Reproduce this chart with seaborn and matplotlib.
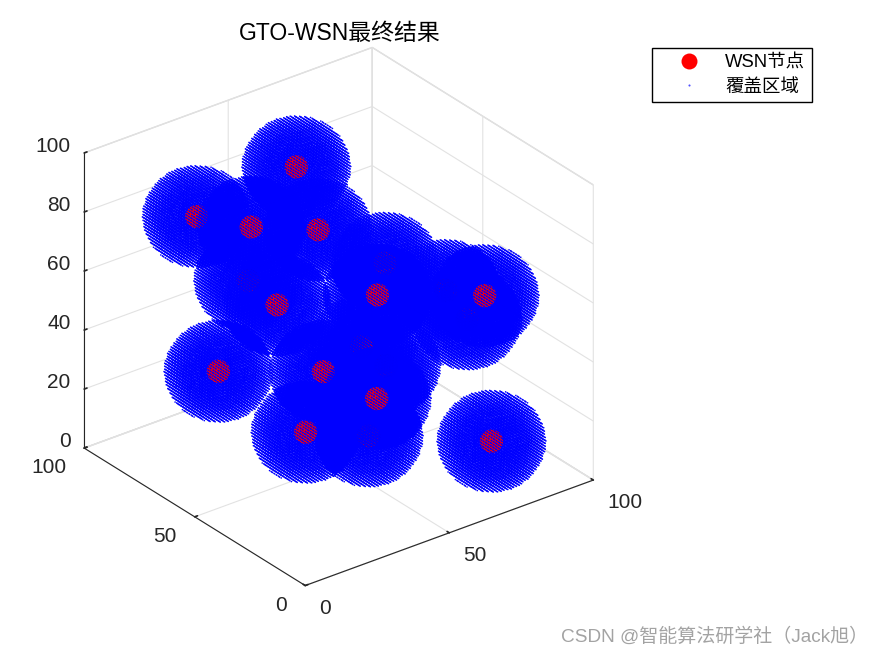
import numpy as np
import matplotlib
matplotlib.use("Agg")
import matplotlib.pyplot as plt
import seaborn as sns
from matplotlib.lines import Line2D

node_x = [56, 23, 25, 49, 47, 24, 65, 83, 83, 92, 97, 19, 47, 64, 44, 27, 55, 80, 68]
node_y = [77, 79, 57, 58, 87, 44, 52, 72, 27, 56, 53, 64, 53, 58, 25, 35, 43, 20, 52]
node_z = [86, 80, 86, 76, 46, 66, 51, 46, 56, 41, 31, 36, 31, 31, 36, 26, 11, 11, 26]
radius = 15
shell = 4.0

x_ticks = [0, 50, 100]
y_ticks = [0, 50, 100]
z_ticks = [0, 20, 40, 60, 80, 100]

title = "GTO-WSN最终结果"
legend_labels = ["WSN节点", "覆盖区域"]
credit = "CSDN @智能算法研学社（Jack旭）"

sns.set_theme(style="white")
font_list = ["Liberation Sans", "Noto Sans CJK SC", "DejaVu Sans"]
plt.rcParams["font.family"] = font_list


def coverage_points():
    # integer grid points inside each ball, split into core and outer shell
    off = np.arange(-radius - 1, radius + 2)
    gx, gy, gz = np.meshgrid(off, off, off, indexing="ij")
    d = np.sqrt(gx ** 2 + gy ** 2 + gz ** 2)
    outer = (d <= radius) & (d > radius - shell)
    inner = d <= radius - shell
    core, skin = [], []
    for cx, cy, cz in zip(node_x, node_y, node_z):
        core.append(np.c_[gx[inner] + cx, gy[inner] + cy, gz[inner] + cz])
        skin.append(np.c_[gx[outer] + cx, gy[outer] + cy, gz[outer] + cz])
    return np.vstack(core), np.vstack(skin)


fig = plt.figure(figsize=(8.75, 6.56), dpi=100)
ax = fig.add_axes([-0.123, 0.004, 1.0, 1.0], projection="3d", computed_zorder=False)
ax.set_proj_type("ortho")
ax.view_init(elev=28.5, azim=-127.5)
ax.set_box_aspect((1, 1, 0.925), zoom=0.908)

core, skin = coverage_points()
ax.scatter(core[:, 0], core[:, 1], core[:, 2], c="#0000ff", s=1.1, linewidths=0,
           depthshade=False, zorder=3)
# skin and nodes in one collection, so that mplot3d sorts them together by depth
xs = np.r_[skin[:, 0], node_x]
ys = np.r_[skin[:, 1], node_y]
zs = np.r_[skin[:, 2], node_z]
colors = np.array(["#0000ff"] * len(skin) + ["#ff0000"] * len(node_x))
sizes = np.r_[np.full(len(skin), 1.3), np.full(len(node_x), 280)]
ax.scatter(xs, ys, zs, c=colors, s=sizes, linewidths=0, depthshade=False, zorder=4)

ax.set_xlim(0, 100, view_margin=0)
ax.set_ylim(0, 100, view_margin=0)
ax.set_zlim(0, 100, view_margin=0)
ax.set_xticks(x_ticks)
ax.set_yticks(y_ticks)
ax.set_zticks(z_ticks)

for axis in (ax.xaxis, ax.yaxis, ax.zaxis):
    axis.set_pane_color((1, 1, 1, 1))
    axis.pane.set_edgecolor("#d8d8d8")
    axis.line.set_color("#262626")
    axis.line.set_linewidth(0.8)
    axis._axinfo["grid"]["color"] = "#e2e2e2"
    axis._axinfo["grid"]["linewidth"] = 0.8
    axis._axinfo["tick"]["inward_factor"] = 0.0
    axis._axinfo["tick"]["outward_factor"] = 0.12
ax.tick_params(labelsize=15, colors="#262626")
ax.tick_params(axis="x", pad=8)
ax.tick_params(axis="y", pad=7.5)
ax.tick_params(axis="z", pad=-1.5)
for t in ax.get_xticklabels():
    t.set_ha("left")
    t.set_va("baseline")
for t in ax.get_yticklabels():
    t.set_ha("right")
    t.set_va("baseline")
for t in ax.get_zticklabels():
    t.set_ha("right")
    t.set_va("baseline")

fig.suptitle(title, x=339.5 / 875, y=1 - 33 / 656, va="center", fontsize=16.5, color="black")

handles = [
    Line2D([], [], ls="", marker="o", ms=11.5, color="#ff0000", mew=0),
    Line2D([], [], ls="", marker="o", ms=1.5, color="#5050ff", mew=0),
]
fig.legend(handles, legend_labels, loc="upper left",
           bbox_to_anchor=(652 / 875, 1 - 48 / 656), borderaxespad=0,
           fontsize=13.3, fancybox=False, framealpha=1, edgecolor="black", labelcolor="black",
           labelspacing=0.38, handlelength=3.3, handletextpad=0.3, borderpad=0.35)

fig.text(561 / 875, 1 - 637 / 656, credit, fontsize=13.7, color="#a3a3a3", va="center",
         family=["Liberation Sans", "Noto Sans CJK SC"])

fig.savefig("out.png", dpi=100)
